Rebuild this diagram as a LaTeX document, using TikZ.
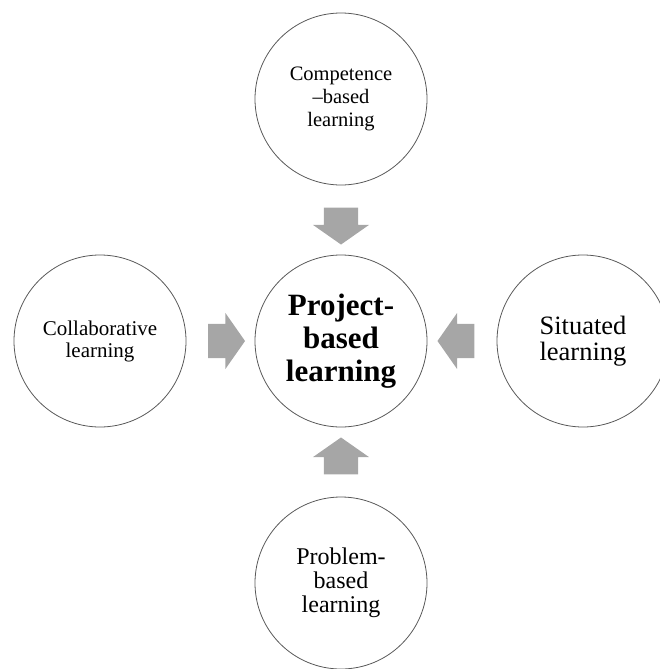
\documentclass[tikz,border=0pt]{standalone}
\usepackage{fontspec}
\setmainfont{Liberation Serif}
\usetikzlibrary{shapes.arrows, positioning, calc}

\tikzset{
  topic/.style={circle, draw=black!65, line width=0.8pt, minimum size=172pt,
    inner sep=0pt, align=center, font=\fontsize{20.5}{23}\selectfont},
  push/.style={single arrow, fill=black!35, draw=none, minimum height=37pt,
    inner xsep=0pt, inner ysep=17pt, single arrow head extend=11pt,
    single arrow tip angle=110}
}

\begin{document}
\begin{tikzpicture}[x=1pt,y=-1pt]
  \useasboundingbox (0,0) rectangle (659,669);
  % centre and the four sources
  \node[topic, font=\bfseries\fontsize{31}{33}\selectfont] (pbl) at (341,341) {Project-\\based\\learning};
  \node[topic] (cbl) at (341,99) {Competence\\--based\\learning};
  \node[topic, font=\fontsize{21}{22}\selectfont] (col) at (100,341) {Collaborative\\learning};
  \node[topic, font=\fontsize{26.5}{26}\selectfont] (sit) at (583,341) {Situated\\learning};
  \node[topic, font=\fontsize{24}{24}\selectfont] (prb) at (341,583) {Problem-\\based\\learning};
  % block arrows into the centre
  \node[push, rotate=-90] (a1) at ($(cbl)!0.5!(pbl)$) {};
  \node[push]             (a2) at ($(col)!0.5!(pbl)$) {};
  \node[push, rotate=180] (a3) at ($(sit)!0.5!(pbl)$) {};
  \node[push, rotate=90]  (a4) at ($(prb)!0.5!(pbl)$) {};
\end{tikzpicture}
\end{document}
